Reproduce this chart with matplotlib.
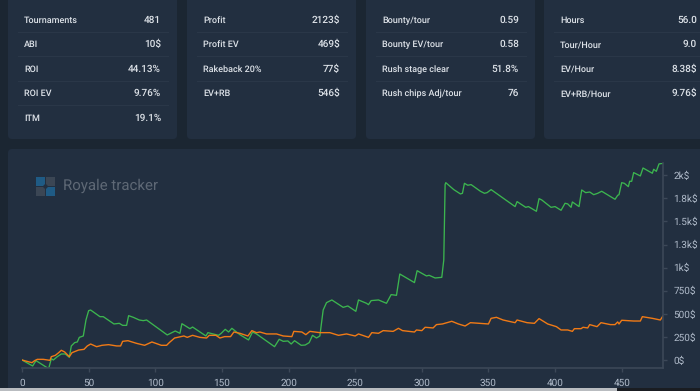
import matplotlib
matplotlib.use('Agg')
import matplotlib.pyplot as plt
from matplotlib.patches import FancyBboxPatch, Rectangle, Circle

plt.rcParams['font.family'] = ['Roboto', 'DejaVu Sans']
plt.rcParams['text.hinting'] = 'no_hinting'
plt.rcParams['text.hinting_factor'] = 1

# stat cards
card1_labels = ['Tournaments', 'ABI', 'ROI', 'ROI EV', 'ITM']
card1_values = ['481', '10$', '44.13%', '9.76%', '19.1%']
card2_labels = ['Profit', 'Profit EV', 'Rakeback 20%', 'EV+RB']
card2_values = ['2123$', '469$', '77$', '546$']
card3_labels = ['Bounty/tour', 'Bounty EV/tour', 'Rush stage clear', 'Rush chips Adj/tour']
card3_values = ['0.59', '0.58', '51.8%', '76']
card4_labels = ['Hours', 'Tour/Hour', 'EV/Hour', 'EV+RB/Hour']
card4_values = ['56.0', '9.0', '8.38$', '9.76$']

# chart ticks
x_ticks = [0, 50, 100, 150, 200, 250, 300, 350, 400, 450]
y_ticks = [0, 250, 500, 750, 1000, 1250, 1500, 1750, 2000]
y_tick_labels = ['0$', '250$', '500$', '750$', '1k$', '1.3k$', '1.5k$', '1.8k$', '2k$']

# green line, profit
profit_x = [0, 8, 10.5, 20, 22, 23.5, 26.5, 29.5, 32.5, 35.5, 37, 39.5, 41.5, 43, 46, 48, 50, 51.5,
            58.5, 61, 69, 73, 75.5, 78.5, 80, 83.5, 88, 91, 93.5, 109, 115, 118.5, 120, 123.5, 126,
            128, 138, 139.5, 143.5, 147.5, 149.5, 152.5, 155, 157.5, 163.5, 170, 173, 176, 189.5,
            193, 196, 199.5, 202, 204.5, 209.5, 212.5, 215.5, 218, 221, 223.5, 226, 228.5, 232.5,
            241, 244.5, 250.5, 252.5, 258.5, 260, 262, 267.5, 273.5, 277, 281, 283.5, 294.5, 296.5,
            303.5, 305.5, 310, 315, 316.5, 317.5, 318, 324, 329, 330.5, 332, 334.5, 337, 344, 347,
            349, 352, 370, 371.5, 378, 380, 386, 388, 390, 397, 400, 404.5, 407.5, 409.5, 412, 413,
            418, 420, 423, 426, 429, 432, 435, 445, 447, 448, 450, 452, 455, 456, 457.5, 459, 464,
            466, 473, 474, 476, 478, 481]
profit_y = [0, -65, -7, -94, 14, 0, 36, 65, 65, 29, 152, 188, 195, 245, 260, 433, 534, 541,
            469, 469, 390, 397, 375, 375, 480, 462, 433, 426, 433, 271, 314, 289, 393, 361, 339,
            357, 260, 296, 282, 267, 289, 332, 303, 343, 274, 217, 303, 282, 144,
            224, 202, 206, 173, 209, 159, 162, 188, 267, 238, 260, 541, 621, 650,
            570, 585, 527, 650, 614, 599, 643, 650, 614, 708, 700, 931, 838, 967,
            910, 917, 888, 895, 1083, 1900, 1920, 1845, 1798, 1805, 1913, 1892, 1899, 1827, 1805,
            1812, 1845, 1661, 1715, 1653, 1661, 1610, 1747, 1733, 1653, 1661, 1621, 1697, 1690, 1653, 1711,
            1661, 1841, 1812, 1819, 1790, 1805, 1827, 1740, 1783, 1790, 1920, 1913, 1877, 1935, 1935, 2029, 1993,
            2079, 2022, 2065, 2043, 2123, 2130]

# orange line, profit EV
ev_x = [0, 3.5, 7.5, 9.5, 11.5, 16, 21, 22, 25, 27.5, 29.5, 32, 35.5, 37.5, 42.5, 46.5, 49, 51.5,
        56, 60, 65, 71, 74, 75.5, 79.5, 86, 92, 97.5, 104.5, 108.5, 110.5, 114.5, 121.5, 124, 128,
        133.5, 138.5, 140.5, 145.5, 148.5, 152, 156.5, 159, 163.5, 169.5, 172.5, 176, 178.5, 183.5,
        191, 196, 202.5, 204, 210, 213, 216, 223.5, 231, 237.5, 243.5, 250, 252.5, 260, 262.5,
        267.5, 271, 278.5, 282.5, 285.5, 294.5, 296, 300, 302.5, 308.5, 311, 315.5, 322.5, 327.5,
        332.5, 336.5, 350, 352, 356, 361, 370, 371.5, 379, 384.5, 388, 394.5, 401, 404.5, 409.5,
        413, 414.5, 419.5, 421, 424.5, 426, 431.5, 434.5, 441.5, 445, 447, 448, 450, 459, 464,
        465.5, 473, 479, 481]
ev_y = [0, -14, -29, -7, 7, 7, -4, 36, 50, 79, 105, 87, 36, 79, 108, 115, 152, 173,
        144, 159, 166, 152, 152, 202, 209, 180, 159, 195, 159, 159, 188, 238, 260, 245, 267,
        245, 238, 267, 267, 238, 253, 253, 303, 289, 260, 318, 296, 303, 282,
        282, 260, 253, 310, 303, 274, 310, 296, 296, 267, 282, 260, 282, 245, 296,
        289, 318, 310, 343, 318, 303, 325, 318, 354, 347, 383, 390, 419, 390,
        368, 404, 390, 451, 462, 433, 404, 433, 404, 397, 448, 390, 361, 325, 325,
        310, 339, 339, 354, 347, 383, 361, 404, 383, 383, 412, 390, 430, 422, 422,
        469, 451, 433, 477]

W, H = 700, 391
bg_color = '#1b2632'
card_color = '#222f40'
line_color = '#2a3748'
label_color = '#dde2e8'
axis_color = '#3c4858'
tick_color = '#b0bbca'

fig = plt.figure(figsize=(W / 100, H / 100), dpi=100, facecolor=bg_color)

# pixel coordinate layer for the cards
bg = fig.add_axes([0, 0, 1, 1])
bg.set_xlim(0, W)
bg.set_ylim(H, 0)
bg.axis('off')

def card(x0, y0, x1, y1):
    bg.add_patch(FancyBboxPatch((x0 + 4, y0 + 4), x1 - x0 - 8, y1 - y0 - 8,
                                boxstyle='round,pad=4,rounding_size=4',
                                fc=card_color, ec='none', mutation_aspect=1))

card_edges = [(8, 177), (187, 356), (366, 535), (544, 720)]
cards = [(card1_labels, card1_values), (card2_labels, card2_values),
         (card3_labels, card3_values), (card4_labels, card4_values)]
row_y = [22.7, 47, 71.7, 96.3, 120.7]
divider_y = [31.5, 56, 80.5, 104.5]

for (x0, x1), (labels, values) in zip(card_edges, cards):
    card(x0, -20, x1, 139)
    right = min(x1 - 16, 697)
    for i, yd in enumerate(divider_y):
        if i < len(labels) - 1:
            bg.plot([x0 + 10, x1 - 9], [yd, yd], color=line_color, lw=0.8)
    for lab, val, yr in zip(labels, values, row_y):
        bg.text(x0 + 16, yr, lab, color=label_color, fontsize=6.3, weight=500, va='baseline', ha='left')
        bg.text(right, yr, val, color=label_color, fontsize=6.9, weight=500, va='baseline', ha='right')

card(8, 149, 720, 400)

# scrollbar along the bottom
bg.add_patch(Rectangle((0, 388), W, 3, fc='#1a1d22', ec='none', zorder=5))
bg.add_patch(Rectangle((0, 388), 617, 3, fc='#b9bcc0', ec='none', zorder=6))

# watermark
bg.add_patch(Rectangle((36, 177), 9, 9, fc='#1f5b85', ec='none'))
bg.add_patch(Rectangle((46, 187), 9, 9, fc='#1f5b85', ec='none'))
bg.add_patch(Rectangle((46, 177), 9, 9, fc='#3b4654', ec='none'))
bg.add_patch(Rectangle((36, 187), 9, 9, fc='#3b4654', ec='none'))
bg.add_patch(Circle((45.5, 186.5), 2.2, fc=card_color, ec='none'))
bg.text(63, 185.5, 'Royale tracker', color='#5e6875', fontsize=10.8, va='center', ha='left')

# the chart itself
px_left, px_right, px_top, px_bottom = 22, 663, 163, 368.3
ax = fig.add_axes([px_left / W, 1 - px_bottom / H, (px_right - px_left) / W, (px_bottom - px_top) / H])
ax.patch.set_alpha(0)
ax.plot(profit_x, profit_y, color='#3cb54f', lw=0.95, solid_joinstyle='round')
ax.plot(ev_x, ev_y, color='#f07a16', lw=1.0, solid_joinstyle='round')
ax.set_xlim(0, 481)
ax.set_ylim(-90, 2133)
ax.set_xticks(x_ticks)
ax.yaxis.tick_right()
ax.set_yticks(y_ticks)
ax.set_yticklabels(y_tick_labels)
ax.tick_params(axis='both', colors=axis_color, labelcolor=tick_color, labelsize=6.9, length=3, width=1, pad=4.5)
for side in ['top', 'left']:
    ax.spines[side].set_visible(False)
for side in ['bottom', 'right']:
    ax.spines[side].set_color(axis_color)
    ax.spines[side].set_linewidth(1.2)

fig.savefig('out.png', dpi=100, facecolor=fig.get_facecolor())
